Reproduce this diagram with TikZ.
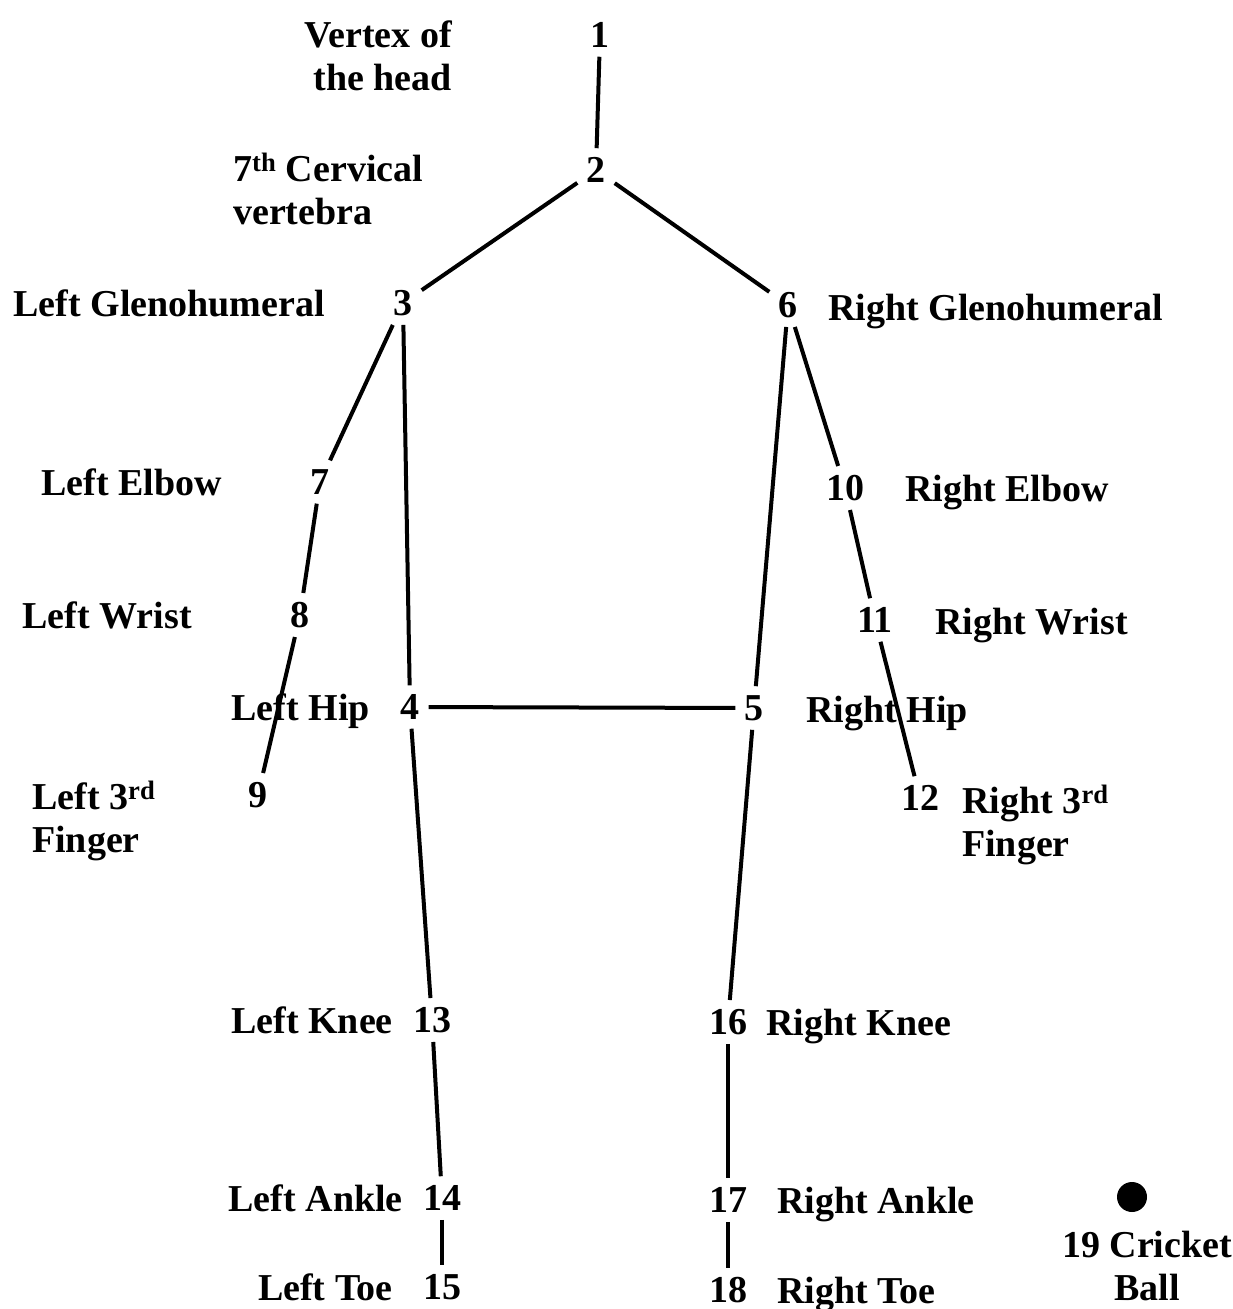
\documentclass[tikz,border=0pt]{standalone}
\usepackage{fontspec}
\setmainfont{Liberation Serif}
\usetikzlibrary{positioning}
\newcommand{\jointfont}{\fontsize{38}{43}\selectfont\bfseries}

\begin{document}
\begin{tikzpicture}[x=1pt,y=-1pt,
    joint/.style={inner sep=9pt,font=\jointfont},
    lbl/.style={inner sep=0pt,font=\jointfont},
    bone/.style={line width=4pt},
    ball/.style={circle,fill,inner sep=0pt,minimum size=30pt}
]
    \useasboundingbox (0,0) rectangle (1233,1309);

    % Joints
    \foreach \n/\x/\y in {1/600/35, 2/596/170, 3/403/303, 6/788/305,
        7/320/482, 10/845/488, 8/300/615, 11/875/620, 4/410/707, 5/754/708,
        9/258/795, 12/920/798, 13/432/1020, 16/728/1022, 14/442/1198,
        17/728/1200, 15/442/1287, 18/728/1290}
        { \node[joint] (j\n) at (\x,\y) {\n}; }
    \node[ball] (ball) at (1132,1197) {};

    % Labels, left side (base of a two-line label is its last line)
    \node[lbl,anchor=base east,align=right] at (452,90) {Vertex of\\the head};
    \node[lbl,anchor=base west,align=left] at (233,224) {7\textsuperscript{th} Cervical\\vertebra};
    \node[lbl,anchor=base east] at (325,316) {Left Glenohumeral};
    \node[lbl,anchor=base east] at (222,495) {Left Elbow};
    \node[lbl,anchor=base east] at (192,628) {Left Wrist};
    \node[lbl,anchor=base east] at (370,720) {Left Hip};
    \node[lbl,anchor=base west,align=left] at (32,852) {Left 3\textsuperscript{rd}\\Finger};
    \node[lbl,anchor=base east] at (393,1033) {Left Knee};
    \node[lbl,anchor=base east] at (403,1211) {Left Ankle};
    \node[lbl,anchor=base east] at (393,1300) {Left Toe};

    % Labels, right side
    \node[lbl,anchor=base west] at (828,320) {Right Glenohumeral};
    \node[lbl,anchor=base west] at (905,501) {Right Elbow};
    \node[lbl,anchor=base west] at (935,634) {Right Wrist};
    \node[lbl,anchor=base west] at (806,722) {Right Hip};
    \node[lbl,anchor=base west,align=left] at (962,856) {Right 3\textsuperscript{rd}\\Finger};
    \node[lbl,anchor=base west] at (766,1035) {Right Knee};
    \node[lbl,anchor=base west] at (777,1213) {Right Ankle};
    \node[lbl,anchor=base west] at (777,1303) {Right Toe};
    \node[lbl,anchor=base,align=center] at (1147,1300) {19 Cricket\\Ball};

    % Segments
    \foreach \a/\b in {1/2, 2/3, 2/6, 3/7, 7/8, 8/9, 3/4, 6/5, 6/10,
        10/11, 11/12, 4/5, 4/13, 13/14, 14/15, 5/16, 16/17, 17/18}
        { \draw[bone] (j\a) -- (j\b); }
\end{tikzpicture}
\end{document}
